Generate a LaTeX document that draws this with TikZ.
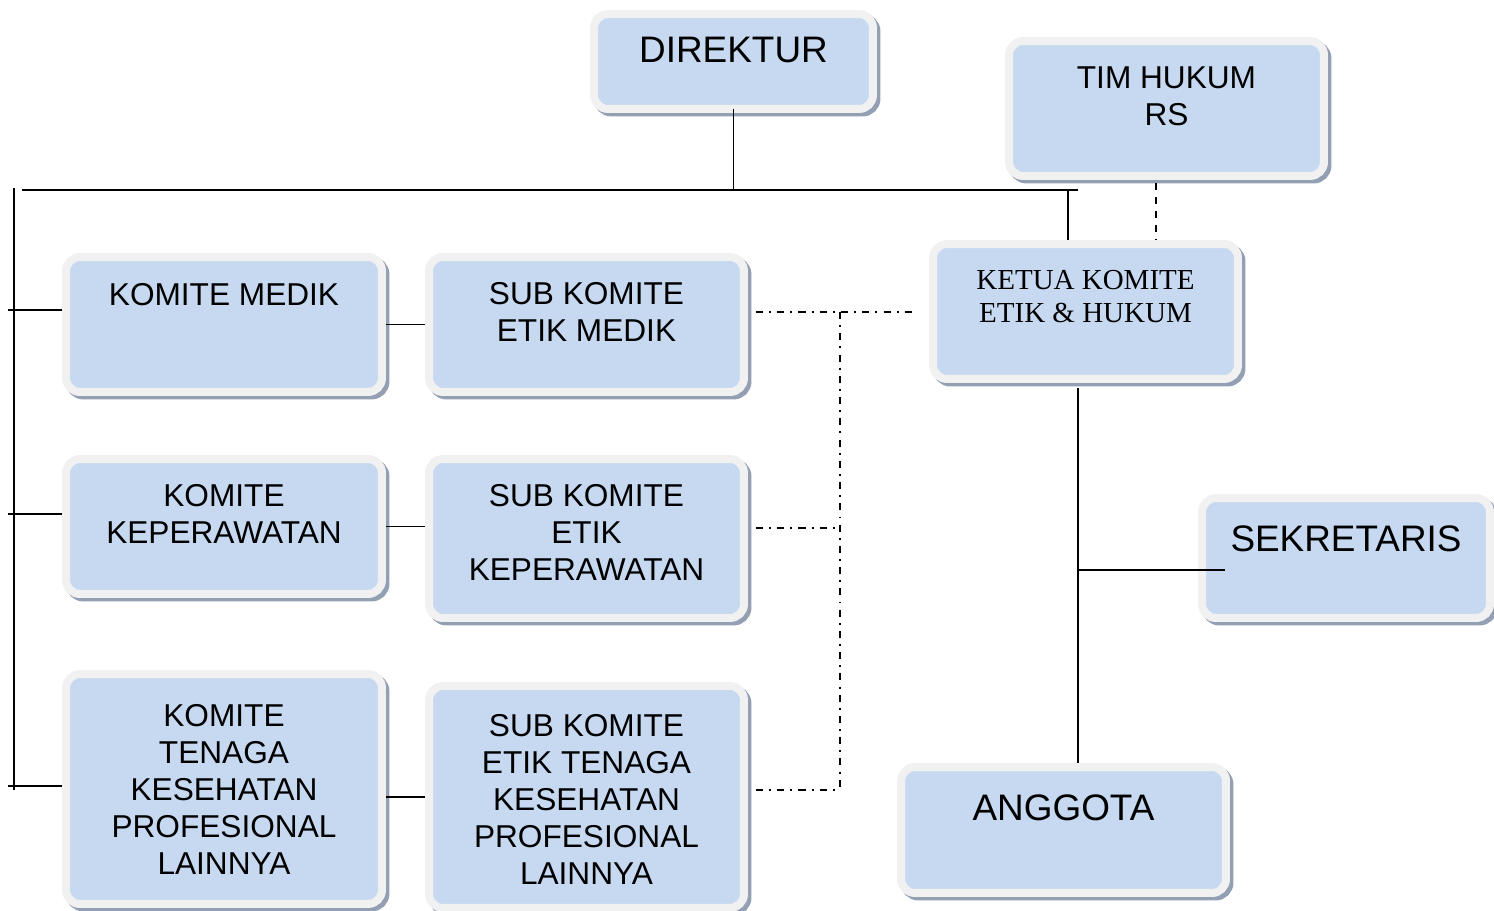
\documentclass[tikz,border=0pt]{standalone}
\usepackage{fontspec}
\setmainfont{Liberation Sans}
\newfontfamily\timesfont{Liberation Serif}
\usetikzlibrary{calc,positioning,shadows}
\definecolor{boxfill}{HTML}{C6D9F1}
\definecolor{boxrim} {HTML}{F1F1F1}
\definecolor{boxshade}{HTML}{939FB3}

\begin{document}
\begin{tikzpicture}[x=0.02cm, y=-0.02cm,
      orgbox/.style={draw=boxrim, line width=0.16cm, fill=boxfill, rounded corners=0.28cm,
                     drop shadow={shadow xshift=0.07cm, shadow yshift=-0.07cm,
                                  fill=boxshade, draw=boxshade, line width=0.16cm, opacity=1}},
      txt/.style={inner sep=0pt, align=center, font=\fontsize{18}{21}\selectfont},
      bigtxt/.style={txt, font=\fontsize{21}{24}\selectfont},
      wire/.style={line width=1.1pt},
      dashdot/.style={line width=1.1pt, dash pattern=on 4pt off 3.5pt on 1.1pt off 3.5pt},
    ]
      \useasboundingbox (0,0) rectangle (1494,911);

      % boxes
      \node[orgbox, minimum width=5.58cm, minimum height=1.90cm] (direktur)   at (733.5,61.5) {};
      \node[orgbox, minimum width=6.30cm, minimum height=2.70cm] (timhukum)   at (1166.5,108.5) {};
      \node[orgbox, minimum width=6.10cm, minimum height=2.70cm] (ketua)      at (1085.5,311.5) {};
      \node[orgbox, minimum width=6.32cm, minimum height=2.70cm] (kmedik)     at (224,324.5) {};
      \node[orgbox, minimum width=6.30cm, minimum height=2.70cm] (skmedik)    at (586.5,324.5) {};
      \node[orgbox, minimum width=6.32cm, minimum height=2.70cm] (kkep)       at (224,526.5) {};
      \node[orgbox, minimum width=6.30cm, minimum height=3.18cm] (skkep)      at (586.5,538.5) {};
      \node[orgbox, minimum width=6.32cm, minimum height=4.60cm] (ktenaga)    at (224,789) {};
      \node[orgbox, minimum width=6.30cm, minimum height=4.44cm] (sktenaga)   at (586.5,797) {};
      \node[orgbox, minimum width=5.76cm, minimum height=2.40cm] (sekretaris) at (1346,558) {};
      \node[orgbox, minimum width=6.50cm, minimum height=2.52cm] (anggota)    at (1063.5,830) {};

      % texts
      \node[bigtxt, below=0.54cm of direktur.north]   (direktur-t)   {DIREKTUR};
      \node[txt,    below=0.58cm of timhukum.north]   (timhukum-t)   {TIM HUKUM\\RS};
      \node[txt,    below=0.59cm of ketua.north, font=\timesfont\fontsize{16.5}{19.3}\selectfont]
                                                      (ketua-t)      {KETUA KOMITE\\ETIK \& HUKUM};
      \node[txt,    below=0.60cm of kmedik.north]     (kmedik-t)     {KOMITE MEDIK};
      \node[txt,    below=0.58cm of skmedik.north]    (skmedik-t)    {SUB KOMITE\\ETIK MEDIK};
      \node[txt,    below=0.58cm of kkep.north]       (kkep-t)       {KOMITE\\KEPERAWATAN};
      \node[txt,    below=0.58cm of skkep.north]      (skkep-t)      {SUB KOMITE\\ETIK\\KEPERAWATAN};
      \node[txt,    below=0.68cm of ktenaga.north]    (ktenaga-t)    {KOMITE\\TENAGA\\KESEHATAN\\PROFESIONAL\\LAINNYA};
      \node[txt,    below=0.64cm of sktenaga.north]   (sktenaga-t)   {SUB KOMITE\\ETIK TENAGA\\KESEHATAN\\PROFESIONAL\\LAINNYA};
      \node[bigtxt, below=0.62cm of sekretaris.north] (sekretaris-t) {SEKRETARIS};
      \node[bigtxt, below=0.62cm of anggota.north]    (anggota-t)    {ANGGOTA};

      % solid lines
      \coordinate (barL) at (22,190);
      \coordinate (barR) at (1078,190);
      \coordinate (spT)  at (14,188);
      \coordinate (spB)  at (14,790);
      \coordinate (t1) at (8,310);
      \coordinate (t2) at (8,514);
      \coordinate (t3) at (8,786);
      \coordinate (kt) at (1068,190);
      \coordinate (kv) at (1078,388);
      \coordinate (sb) at (1078,570);
      \coordinate (sbE) at (1225,570);

      \draw[wire] (barL) -- (barR);
      \draw[wire] ([yshift=0.08cm]direktur.south) -- (direktur.south |- barL);
      \draw[wire] (spT) -- (spB);
      \foreach \t/\k in {t1/kmedik, t2/kkep, t3/ktenaga}
        \draw[wire] (\t) -- (\t -| \k.west);
      \draw[wire] (kmedik) -- (skmedik);
      \draw[wire] (kkep.east) -- (kkep.east -| skkep.west);
      \draw[wire] (ktenaga.east |- sktenaga.west) -- (sktenaga.west);
      \draw[wire] (kt) -- (kt |- ketua.north);
      \draw[wire] (kv) -- (kv |- anggota.north);
      \draw[wire] (sb) -- (sbE);

      % dashed lines
      \coordinate (tk) at (1156,183);
      \draw[line width=1.1pt, dash pattern=on 4pt off 4pt] (tk) -- (tk |- ketua.north);

      \coordinate (dd) at (840,312);
      \draw[dashdot, shorten <=0.16cm, shorten >=0.30cm] (skmedik.east |- dd) -- (ketua.west |- dd);
      \draw[dashdot] (dd) -- (dd |- 0,790);
      \draw[dashdot, shorten <=0.16cm] (skkep.east |- 0,528) -- (dd |- 0,528);
      \draw[dashdot, shorten <=0.16cm] (sktenaga.east |- 0,790) -- (dd |- 0,790);
    \end{tikzpicture}
\end{document}
